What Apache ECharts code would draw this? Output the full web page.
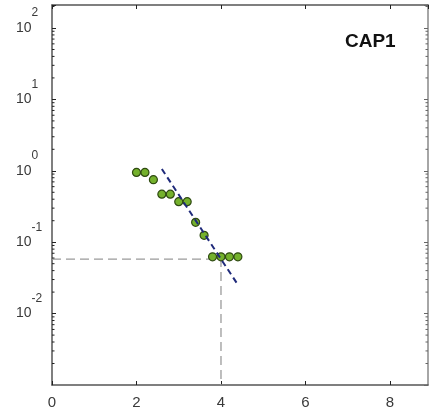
<!DOCTYPE html>
<html>
<head>
<meta charset="utf-8">
<script src="https://cdn.jsdelivr.net/npm/echarts@6/dist/echarts.min.js"></script>
<style>
  html, body { margin: 0; padding: 0; background: #fff; }
  #chart { width: 429px; height: 415px; }
</style>
</head>
<body>
<div id="chart"></div>
<script>
// Measured points (x, relative value on log scale)
const pointX = [2.0, 2.2, 2.4, 2.6, 2.8, 3.0, 3.2, 3.4, 3.6, 3.8, 4.0, 4.2, 4.4];
const pointY = [0.95, 0.95, 0.75, 0.47, 0.47, 0.37, 0.37, 0.19, 0.125, 0.0625, 0.0625, 0.0625, 0.0625];

// Fitted decay line end points
const fitX = [2.6, 4.42];
const fitY = [1.06, 0.0243];

// Threshold guide: level and the x where the fit crosses it
const thresholdY = 0.058;
const thresholdX = 4;

// Axis ranges and ticks
const xTicks = [0, 2, 4, 6, 8];
const xMax = 8.9;
const yMin = 0.001;
const yMax = 210;
const yDecades = [-3, -2, -1, 0, 1, 2];
const yLabelExponents = [-2, -1, 0, 1, 2];

// minor tick positions between decades (2..9 x 10^n)
const minorTicks = [];
yDecades.forEach(function (d) {
  for (let k = 2; k <= 9; k++) {
    const v = k * Math.pow(10, d);
    if (v < yMax) minorTicks.push([0, v]);
  }
});

const axisColor = '#555';
const labelColor = '#3a3a3a';

function exponentOf(v) {
  const l = Math.log10(v);
  return Math.abs(l - Math.round(l)) < 1e-6 ? Math.round(l) : null;
}

const chart = echarts.init(document.getElementById('chart'));

chart.setOption({
  animation: false,
  backgroundColor: '#fff',
  title: {
    text: 'CAP1',
    left: 345,
    top: 32,
    padding: 0,
    textStyle: {
      fontFamily: 'Liberation Sans, Arial, sans-serif',
      fontWeight: 'bold',
      fontSize: 19,
      color: '#111'
    }
  },
  grid: { left: 52, right: 1, top: 5, bottom: 30, containLabel: false },
  xAxis: [
    {
      type: 'value',
      position: 'bottom',
      min: 0,
      max: xMax,
      interval: 2,
      axisLine: { show: true, onZero: false, lineStyle: { color: axisColor, width: 1.5 } },
      axisTick: { show: true, inside: true, length: 4, lineStyle: { color: '#222', width: 1 } },
      axisLabel: {
        margin: 10,
        color: labelColor,
        fontSize: 15,
        fontFamily: 'Liberation Sans, Arial, sans-serif',
        showMaxLabel: false,
        formatter: function (v) { return xTicks.indexOf(v) >= 0 ? String(v) : ''; }
      },
      splitLine: { show: false }
    },
    {
      type: 'value',
      position: 'top',
      min: 0,
      max: xMax,
      interval: 2,
      axisLine: { show: true, onZero: false, lineStyle: { color: axisColor, width: 1.5 } },
      axisTick: { show: true, inside: true, length: 4, lineStyle: { color: '#222', width: 1 } },
      axisLabel: { show: false },
      splitLine: { show: false }
    }
  ],
  yAxis: [
    {
      type: 'log',
      logBase: 10,
      position: 'left',
      min: yMin,
      max: yMax,
      axisLine: { show: true, onZero: false, lineStyle: { color: axisColor, width: 1.5 } },
      axisTick: { show: true, inside: true, length: 4, lineStyle: { color: '#222', width: 1 } },
      axisLabel: {
        margin: 36,
        align: 'left',
        color: labelColor,
        fontFamily: 'Liberation Sans, Arial, sans-serif',
        showMinLabel: false,
        showMaxLabel: true,
        formatter: function (v) {
          const e = exponentOf(v);
          if (e === null || yLabelExponents.indexOf(e) < 0) return '';
          return '{b|10}{e|' + e + '}';
        },
        rich: {
          b: { fontSize: 14, lineHeight: 14, verticalAlign: 'middle', color: labelColor,
               fontFamily: 'Liberation Sans, Arial, sans-serif' },
          e: { fontSize: 12, lineHeight: 12, verticalAlign: 'middle', padding: [0, 0, 30, 0],
               color: labelColor, fontFamily: 'Liberation Sans, Arial, sans-serif' }
        }
      },
      splitLine: { show: false }
    },
    {
      type: 'log',
      logBase: 10,
      position: 'right',
      min: yMin,
      max: yMax,
      axisLine: { show: true, onZero: false, lineStyle: { color: '#888', width: 1.5 } },
      axisTick: { show: true, inside: true, length: 4, lineStyle: { color: '#666', width: 1 } },
      axisLabel: { show: false },
      splitLine: { show: false }
    }
  ],
  series: [
    {
      // minor ticks of the log axes, drawn on both sides of the frame
      type: 'custom',
      silent: true,
      clip: false,
      data: minorTicks,
      renderItem: function (params, api) {
        const cs = params.coordSys;
        const y = api.coord([0, api.value(1)])[1];
        return {
          type: 'group',
          children: [
            { type: 'line', shape: { x1: cs.x, y1: y, x2: cs.x + 2.5, y2: y },
              style: { stroke: '#222', lineWidth: 1 } },
            { type: 'line', shape: { x1: cs.x + cs.width - 2.5, y1: y, x2: cs.x + cs.width, y2: y },
              style: { stroke: '#666', lineWidth: 1 } }
          ]
        };
      }
    },
    {
      // threshold guide
      type: 'line',
      silent: true,
      symbol: 'none',
      data: [[0, thresholdY], [thresholdX, thresholdY], [thresholdX, yMin]],
      lineStyle: { color: '#9a9a9a', width: 1.3, type: [9, 5] },
      z: 1
    },
    {
      type: 'scatter',
      data: pointX.map(function (x, i) { return [x, pointY[i]]; }),
      symbol: 'circle',
      symbolSize: 8,
      itemStyle: { color: '#74b12c', borderColor: '#2f4a12', borderWidth: 1.2, opacity: 1 },
      z: 3
    },
    {
      type: 'line',
      silent: true,
      symbol: 'none',
      data: fitX.map(function (x, i) { return [x, fitY[i]]; }),
      lineStyle: { color: '#1f2a7a', width: 2, type: [6, 4] },
      z: 4
    }
  ]
});
</script>
</body>
</html>
